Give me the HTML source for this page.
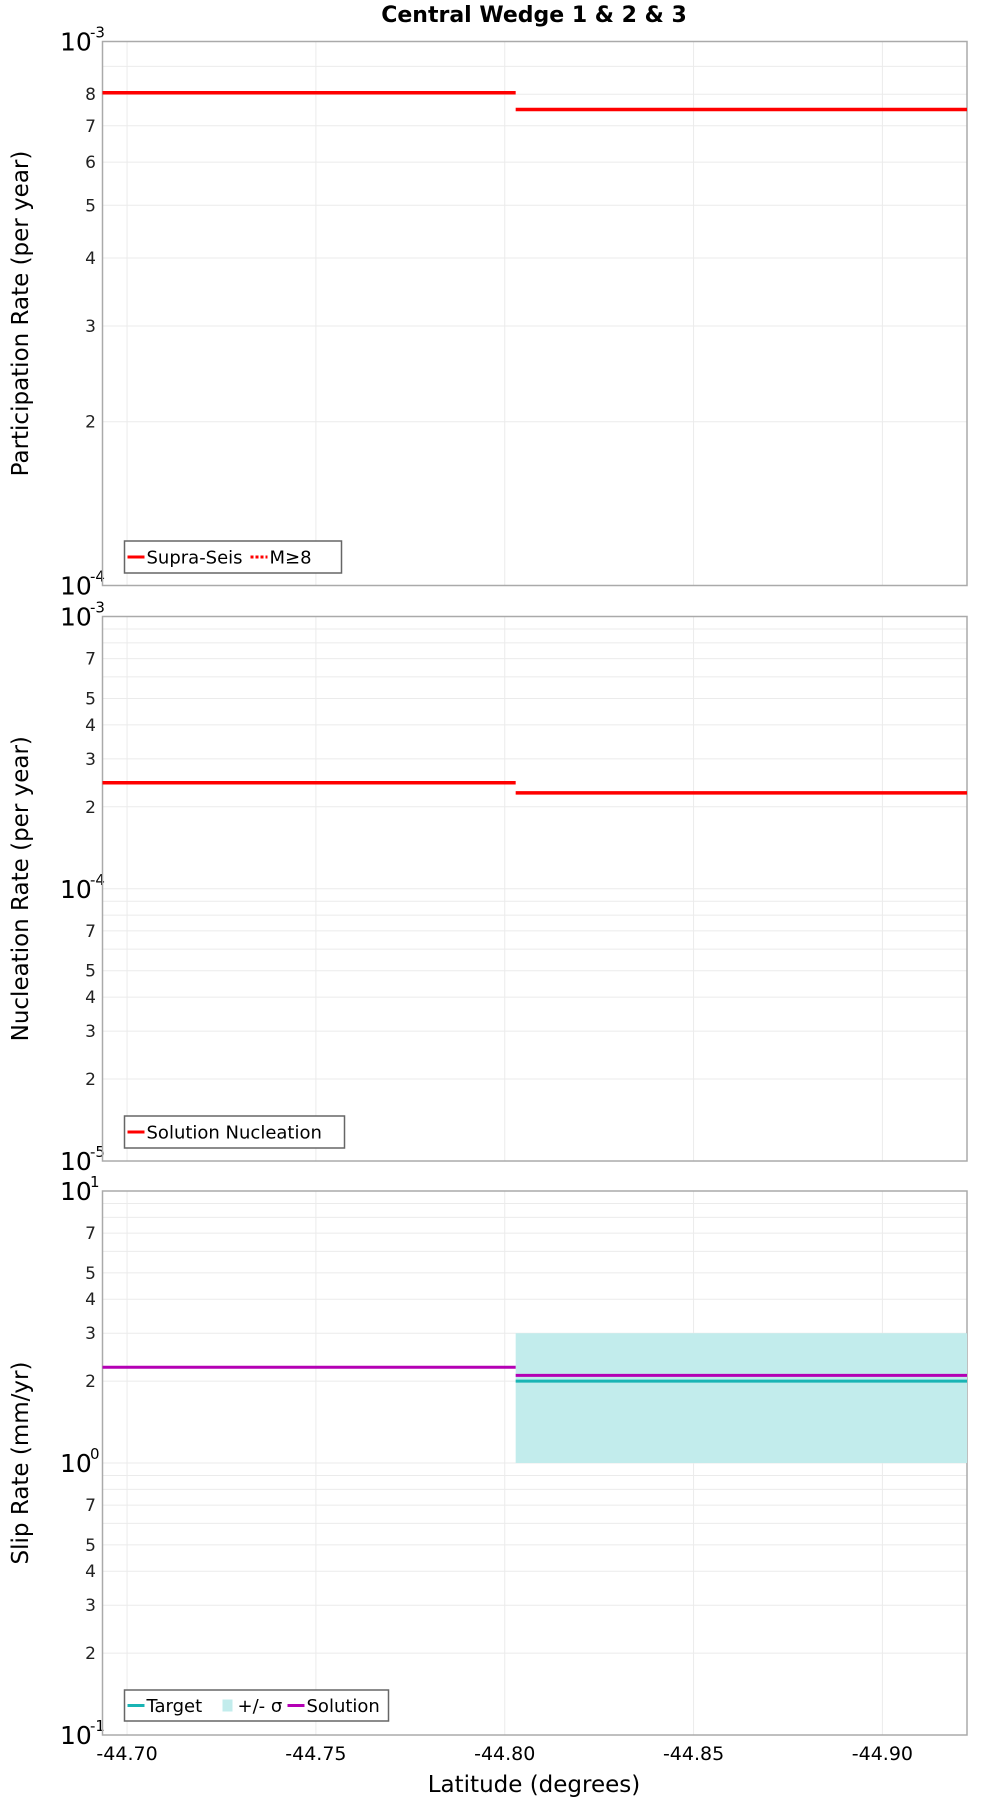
<!DOCTYPE html>
<html><head><meta charset="utf-8"><style>
body{margin:0;background:#fff;}
svg{display:block;font-family:"DejaVu Sans","Liberation Sans",sans-serif;}
</style></head><body>
<svg id="chart" width="1000" height="1800" viewBox="0 0 1000 1800" xmlns="http://www.w3.org/2000/svg">
<text x="534" y="22" font-size="22" font-weight="bold" text-anchor="middle">Central Wedge 1 &amp; 2 &amp; 3</text>
<g id="layer"></g>
</svg>
<script>
// Data
const xTicks = [-44.70, -44.75, -44.80, -44.85, -44.90];
const xTickLabels = ["-44.70", "-44.75", "-44.80", "-44.85", "-44.90"];
const segStarts = [-44.6935, -44.8029];
const segEnds = [-44.8029, -44.9224];
const partRates = [8.05e-4, 7.5e-4];
const nuclRates = [2.45e-4, 2.25e-4];
const slipSolution = [2.25, 2.1];
const slipTarget = [null, 2.0];
const slipLow = [null, 1.0];
const slipHigh = [null, 3.0];

const NS = "http://www.w3.org/2000/svg";
const layer = document.getElementById('layer');
const L = 102.5, R = 967;
const X0 = -44.6935, X1 = -44.9224;
function xs(v){ return L + (v - X0) / (X1 - X0) * (R - L); }
function mk(tag, attrs, parent){
  const e = document.createElementNS(NS, tag);
  for (const k in attrs) e.setAttribute(k, attrs[k]);
  (parent || layer).appendChild(e);
  return e;
}
function panel(top, bottom, dmin, dmax, labeled, title, name){
  const g = mk('g', {});
  
  
  const ys = v => bottom - (Math.log10(v) - dmin) / (dmax - dmin) * (bottom - top);
  for (let d = dmin; d < dmax; d++){
    for (let m = 2; m <= 9; m++){
      const y = ys(m * Math.pow(10, d));
      const gl = mk('line', {x1: L, x2: R, y1: y, y2: y, stroke: '#ebebeb', 'stroke-width': 1}, g);
      
      
      if (labeled.includes(m)){
        const t = mk('text', {x: 96, y: y + 6, 'font-size': 17, 'text-anchor': 'end', fill: '#222'}, g);
        t.textContent = m;
        
        
      }
    }
  }
  for (let d = dmin; d <= dmax; d++){
    const y = ys(Math.pow(10, d));
    if (d > dmin && d < dmax){
      const gl = mk('line', {x1: L, x2: R, y1: y, y2: y, stroke: '#ebebeb', 'stroke-width': 1}, g);
      
      
    }
    const t = mk('text', {x: 60, y: y + 9, 'font-size': 25, fill: '#000'}, g);
    t.textContent = '10';
    
    
    const s = mk('text', {x: 90, y: y - 4, 'font-size': 15, fill: '#000'}, g);
    s.textContent = String(d);
    
    
  }
  xTicks.forEach(v => {
    const gl = mk('line', {x1: xs(v), x2: xs(v), y1: top, y2: bottom, stroke: '#ebebeb', 'stroke-width': 1}, g);
    
    
  });
  const fr = mk('rect', {x: L, y: top, width: R - L, height: bottom - top, fill: 'none', stroke: '#aaa', 'stroke-width': 1.5}, g);
  
  
  const cy = (top + bottom) / 2;
  const at = mk('text', {x: 28, y: cy, 'font-size': 23, 'text-anchor': 'middle', transform: `rotate(-90 28 ${cy})`}, g);
  at.textContent = title;
  
  
  return {g, ys};
}
function segs(p, vals, color, width, name){
  vals.forEach((v, i) => {
    if (v == null) return;
    const l = mk('line', {x1: xs(segStarts[i]), x2: xs(segEnds[i]), y1: p.ys(v), y2: p.ys(v), stroke: color, 'stroke-width': width}, p.g);
    
    
  });
}
function legend(x, y, w, h, items, name){
  const g = mk('g', {});
  
  
  mk('rect', {x: x, y: y, width: w, height: h, fill: '#fff', stroke: '#666', 'stroke-width': 1.5}, g);
  let cx = x + 3;
  items.forEach(it => {
    if (it.type === 'line'){
      mk('line', {x1: cx, x2: cx + 17, y1: y + h/2, y2: y + h/2, stroke: it.color, 'stroke-width': 3, 'stroke-dasharray': it.dash || 'none'}, g);
      cx += 19;
    } else {
      mk('rect', {x: cx + 2, y: y + h/2 - 6, width: 10, height: 12, fill: it.color}, g);
      cx += 17;
    }
    const t = mk('text', {x: cx, y: y + h/2 + 6.5, 'font-size': 18}, g);
    t.textContent = it.label;
    
    
    cx += it.w;
  });
}
// Panel 1
const p1 = panel(41.5, 585.5, -4, -3, [2,3,4,5,6,7,8], 'Participation Rate (per year)', 'participation');
segs(p1, partRates, '#ff0000', 3.5, 'supra-seis');
legend(124.5, 541, 217, 32, [{type:'line', color:'#f00', label:'Supra-Seis', w:104},{type:'line', color:'#f00', dash:'3 2', label:'M≥8', w:50}], 'participation-legend');
// Panel 2
const p2 = panel(616.5, 1161, -5, -3, [2,3,4,5,7], 'Nucleation Rate (per year)', 'nucleation');
segs(p2, nuclRates, '#ff0000', 3.5, 'solution-nucleation');
legend(124.5, 1116, 220, 32, [{type:'line', color:'#f00', label:'Solution Nucleation', w:180}], 'nucleation-legend');
// Panel 3
const p3 = panel(1191, 1735, -1, 1, [2,3,4,5,7], 'Slip Rate (mm/yr)', 'slip');
slipHigh.forEach((v, i) => {
  if (v == null) return;
  const r = mk('rect', {x: xs(segStarts[i]), y: p3.ys(v), width: xs(segEnds[i]) - xs(segStarts[i]), height: p3.ys(slipLow[i]) - p3.ys(v), fill: '#c2ecec'}, p3.g);
  
  
});
segs(p3, slipTarget, '#19b4b4', 3, 'target');
segs(p3, slipSolution, '#b400b4', 3, 'solution');
legend(124.5, 1690, 264, 31, [{type:'line', color:'#19b4b4', label:'Target', w:74},{type:'box', color:'#c2ecec', label:'+/- σ', w:50},{type:'line', color:'#b400b4', label:'Solution', w:80}], 'slip-legend');
// x ticks
xTicks.forEach((v, i) => {
  const t = mk('text', {x: xs(v), y: 1760, 'font-size': 19, 'text-anchor': 'middle'});
  t.textContent = xTickLabels[i];
  
  
});
const xt = mk('text', {x: 534, y: 1792, 'font-size': 23, 'text-anchor': 'middle'});
xt.textContent = 'Latitude (degrees)';


</script>
</body></html>
